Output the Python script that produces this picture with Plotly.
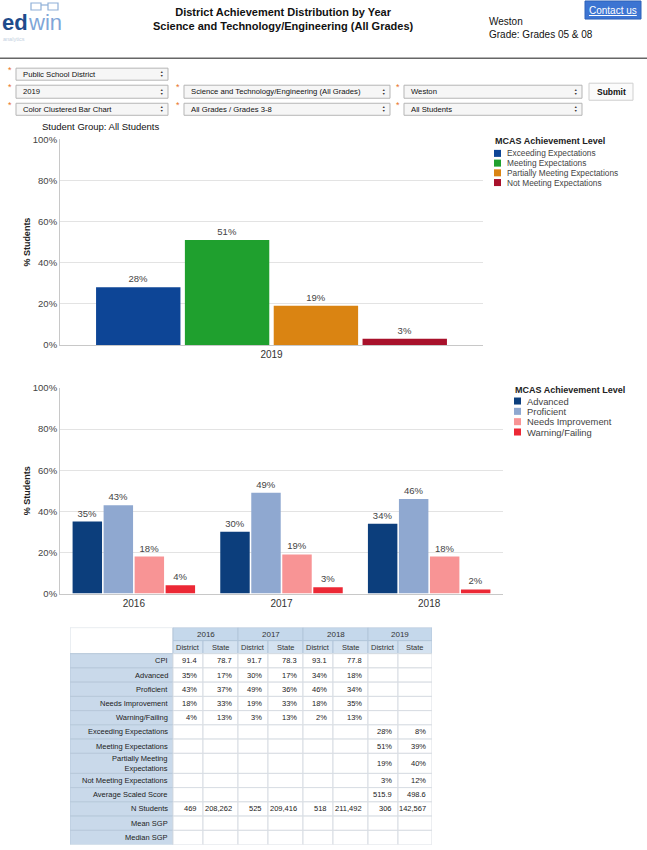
import plotly.graph_objects as go

W, H = 647, 850


def px(x):
    return x / W


def py(y):
    # reference pixel row -> paper fraction (small empirical vertical correction)
    return 1 - ((y - 7.0) / 0.9845) / H


def clamp(v):
    return min(1.0, max(0.0, v))


# ---------------- data ----------------
year_2019 = ["2019"]
levels_new = ["Exceeding Expectations", "Meeting Expectations",
              "Partially Meeting Expectations", "Not Meeting Expectations"]
values_2019 = [28, 51, 19, 3]
colors_new = ["#0d4596", "#1fa02e", "#da8412", "#a8112b"]

years_old = ["2016", "2017", "2018"]
levels_old = ["Advanced", "Proficient", "Needs Improvement", "Warning/Failing"]
advanced = [35, 30, 34]
proficient = [43, 49, 46]
needs_improvement = [18, 19, 18]
warning_failing = [4, 3, 2]
colors_old = ["#0c3e7c", "#8fa8d0", "#f89495", "#ec2835"]

y_ticks = [0, 20, 40, 60, 80, 100]
y_tick_text = ["0%", "20%", "40%", "60%", "80%", "100%"]

table_years = ["2016", "2017", "2018", "2019"]
sub_headers = ["District", "State"]
row_labels = ["CPI", "Advanced", "Proficient", "Needs Improvement", "Warning/Failing",
              "Exceeding Expectations", "Meeting Expectations",
              "Partially Meeting<br>Expectations", "Not Meeting Expectations",
              "Average Scaled Score", "N Students", "Mean SGP", "Median SGP"]
district_2016 = ["91.4", "35%", "43%", "18%", "4%", "", "", "", "", "", "469", "", ""]
state_2016 = ["78.7", "17%", "37%", "33%", "13%", "", "", "", "", "", "208,262", "", ""]
district_2017 = ["91.7", "30%", "49%", "19%", "3%", "", "", "", "", "", "525", "", ""]
state_2017 = ["78.3", "17%", "36%", "33%", "13%", "", "", "", "", "", "209,416", "", ""]
district_2018 = ["93.1", "34%", "46%", "18%", "2%", "", "", "", "", "", "518", "", ""]
state_2018 = ["77.8", "18%", "34%", "35%", "13%", "", "", "", "", "", "211,492", "", ""]
district_2019 = ["", "", "", "", "", "28%", "51%", "19%", "3%", "515.9", "306", "", ""]
state_2019 = ["", "", "", "", "", "8%", "39%", "40%", "12%", "498.6", "142,567", "", ""]
value_cols = [district_2016, state_2016, district_2017, state_2017,
              district_2018, state_2018, district_2019, state_2019]

FONT = "Liberation Sans, Arial, sans-serif"

fig = go.Figure()

# ---------------- chart 1 ----------------
for lvl, v, c in zip(levels_new, values_2019, colors_new):
    fig.add_trace(go.Bar(
        x=year_2019, y=[v], name=lvl, marker=dict(color=c, line=dict(width=0)),
        text=[f"{v}%"], textposition="outside", cliponaxis=False,
        textfont=dict(size=9.5, color="#444", family=FONT),
        xaxis="x", yaxis="y", showlegend=False, hoverinfo="skip"))

# ---------------- chart 2 ----------------
for lvl, vals, c in zip(levels_old, [advanced, proficient, needs_improvement, warning_failing], colors_old):
    fig.add_trace(go.Bar(
        x=years_old, y=vals, name=lvl, marker=dict(color=c, line=dict(width=0)),
        text=[f"{v}%" for v in vals], textposition="outside", cliponaxis=False,
        textfont=dict(size=9.5, color="#444", family=FONT),
        xaxis="x2", yaxis="y2", showlegend=False, hoverinfo="skip"))

# ---------------- axes ----------------
axis_common = dict(showline=True, linecolor="#c8c8c8", linewidth=1, ticks="",
                   tickfont=dict(size=10, color="#333", family=FONT), fixedrange=True)
yaxis_common = dict(range=[0, 100], tickmode="array", tickvals=y_ticks, ticktext=y_tick_text,
                    showgrid=True, gridcolor="#e3e3e3", gridwidth=1,
                    showline=True, linecolor="#c8c8c8", zeroline=False, ticks="",
                    tickfont=dict(size=9.5, color="#444", family=FONT),
                    title=dict(text="<b>% Students</b>", font=dict(size=9, color="#222", family=FONT),
                               standoff=0),
                    fixedrange=True)

# table geometry (pixels)
col_w = [103, 30, 35, 30, 35, 30, 35, 30, 34]
head_h = [13, 13]
body_h = [14.2] * len(row_labels)
body_h[7] = 20
tab_w = sum(col_w)
tab_h = sum(head_h) + sum(body_h)
TAB_TOP = 627

# bottom of table domain may fall just below the paper edge: clamp and keep scale
d_top = py(TAB_TOP)
d_bot_raw = py(TAB_TOP + tab_h)
d_bot = clamp(d_bot_raw)
scale = tab_h / (d_top - d_bot_raw)
y3_range = [(d_top - d_bot) * scale, 0]

fig.update_layout(
    width=W, height=H, margin=dict(l=0, r=0, t=0, b=0),
    paper_bgcolor="white", plot_bgcolor="white",
    barmode="group", bargap=0.16, bargroupgap=0.05,
    font=dict(family=FONT, color="#222"),
    xaxis=dict(domain=[px(60), px(483)], anchor="y", **axis_common),
    yaxis=dict(domain=[py(345), py(140)], anchor="x", **yaxis_common),
    xaxis2=dict(domain=[px(60), px(503)], anchor="y2", **axis_common),
    yaxis2=dict(domain=[py(593), py(388)], anchor="x2", **yaxis_common),
    xaxis3=dict(domain=[px(70), px(70 + tab_w)], range=[0, tab_w], visible=False,
                anchor="y3", fixedrange=True),
    yaxis3=dict(domain=[d_bot, d_top], range=y3_range, visible=False,
                anchor="x3", fixedrange=True),
)

shapes = []
ann = []

# ---------------- table (drawn on hidden pixel-unit axes) ----------------
xe = [0]
for w in col_w:
    xe.append(xe[-1] + w)
ye = [0]
for h in head_h + body_h:
    ye.append(ye[-1] + h)

TF = "Liberation Sans, Arial, sans-serif"


def cell(x0, x1, y0, y1, fill, line):
    shapes.append(dict(type="rect", xref="x3", yref="y3", x0=x0, x1=x1, y0=y0, y1=y1,
                       fillcolor=fill, line=dict(color=line, width=1), layer="below"))


def ttext(x, y, s, anchor, size=7.5, color="#222"):
    ann.append(dict(x=x, y=y, xref="x3", yref="y3", xanchor=anchor, yanchor="middle",
                    showarrow=False, text=s, align=anchor,
                    font=dict(size=size, color=color, family=TF)))


# corner
cell(xe[0], xe[1], ye[0], ye[2], "white", "#d6dde5")
# year header (merged pairs)
for i, yr in enumerate(table_years):
    x0, x1 = xe[1 + 2 * i], xe[3 + 2 * i]
    cell(x0, x1, ye[0], ye[1], "#c5d8eb", "#b3c6da")
    ttext((x0 + x1) / 2, (ye[0] + ye[1]) / 2, yr, "center", size=8, color="#333")
# district / state header
for j in range(8):
    x0, x1 = xe[1 + j], xe[2 + j]
    cell(x0, x1, ye[1], ye[2], "#d4e2f0", "#b3c6da")
    ttext((x0 + x1) / 2, (ye[1] + ye[2]) / 2, sub_headers[j % 2], "center", size=7.5, color="#333")
# body
for r, lab in enumerate(row_labels):
    y0, y1 = ye[2 + r], ye[3 + r]
    cell(xe[0], xe[1], y0, y1, "#c9d9ea", "#b8c9db")
    ttext(xe[1] - 3, (y0 + y1) / 2, lab, "right")
    for j, col in enumerate(value_cols):
        x0, x1 = xe[1 + j], xe[2 + j]
        cell(x0, x1, y0, y1, "white", "#d8dde3")
        if col[r]:
            ttext(x1 - 4, (y0 + y1) / 2, col[r], "right")

# ---------------- manual legends ----------------
def add_legend(x0, y_title, y_first, step, labels, colors, fsize):
    ann.append(dict(x=px(x0), y=py(y_title), xref="paper", yref="paper", xanchor="left",
                    yanchor="middle", showarrow=False, text="<b>MCAS Achievement Level</b>",
                    font=dict(size=9, color="#222", family=FONT)))
    for i, (lab, col) in enumerate(zip(labels, colors)):
        yc = y_first + i * step
        shapes.append(dict(type="rect", xref="paper", yref="paper",
                           x0=px(x0 + 1), x1=px(x0 + 8), y0=py(yc + 3.5), y1=py(yc - 3.5),
                           fillcolor=col, line=dict(width=0)))
        ann.append(dict(x=px(x0 + 12), y=py(yc), xref="paper", yref="paper", xanchor="left",
                        yanchor="middle", showarrow=False, text=lab,
                        font=dict(size=fsize, color="#444", family=FONT)))


add_legend(493, 142, 154, 9.7, levels_new, colors_new, 8.3)
add_legend(513, 390, 401, 10.3, levels_old, colors_old, 9.4)

# ---------------- page header ----------------
ann.append(dict(x=px(0), y=py(23), xref="paper", yref="paper", xanchor="left", yanchor="middle",
                showarrow=False, text="<b>ed</b>", font=dict(size=22, color="#1f4c8c", family=FONT)))
ann.append(dict(x=px(25.5), y=py(23), xref="paper", yref="paper", xanchor="left", yanchor="middle",
                showarrow=False, text="win", font=dict(size=22, color="#7fa6d8", family=FONT)))
ann.append(dict(x=px(1), y=py(40), xref="paper", yref="paper", xanchor="left", yanchor="middle",
                showarrow=False, text="analytics", font=dict(size=5.5, color="#c3d0e0", family=FONT)))
shapes.append(dict(type="rect", xref="paper", yref="paper", x0=px(31), x1=px(41), y0=py(11), y1=py(4),
                   line=dict(color="#8fb0d8", width=1.2)))
shapes.append(dict(type="rect", xref="paper", yref="paper", x0=px(48), x1=px(58), y0=py(11), y1=py(4),
                   line=dict(color="#8fb0d8", width=1.2)))
shapes.append(dict(type="line", xref="paper", yref="paper", x0=px(41), x1=px(48), y0=py(6), y1=py(6),
                   line=dict(color="#8fb0d8", width=1.2)))

ann.append(dict(x=px(283), y=py(20), xref="paper", yref="paper", xanchor="center", yanchor="middle",
                showarrow=False,
                text="<b>District Achievement Distribution by Year</b><br><b>Science and Technology/Engineering (All Grades)</b>",
                font=dict(size=11, color="#111", family=FONT)))
ann.append(dict(x=px(487), y=py(22), xref="paper", yref="paper", xanchor="left", yanchor="middle",
                showarrow=False, text="Weston", font=dict(size=10, color="#111", family=FONT)))
ann.append(dict(x=px(487), y=py(35), xref="paper", yref="paper", xanchor="left", yanchor="middle",
                showarrow=False, text="Grade: Grades 05 & 08", font=dict(size=10, color="#111", family=FONT)))

shapes.append(dict(type="rect", xref="paper", yref="paper", x0=px(585), x1=px(641), y0=py(20), y1=py(2),
                   fillcolor="#3c74d2", line=dict(color="#2f62b8", width=1)))
ann.append(dict(x=px(613), y=py(11), xref="paper", yref="paper", xanchor="center", yanchor="middle",
                showarrow=False, text="<u>Contact us</u>", font=dict(size=10, color="white", family=FONT)))

shapes.append(dict(type="line", xref="paper", yref="paper", x0=0, x1=1, y0=py(59), y1=py(59),
                   line=dict(color="#666", width=1.5)))

# ---------------- form controls ----------------
selects = [
    (16, 168, 69, 81, "Public School District"),
    (16, 168, 86, 99, "2019"),
    (184, 390, 86, 99, "Science and Technology/Engineering (All Grades)"),
    (404, 582, 86, 99, "Weston"),
    (16, 168, 104, 116, "Color Clustered Bar Chart"),
    (184, 390, 104, 116, "All Grades / Grades 3-8"),
    (404, 582, 104, 116, "All Students"),
]
for x0, x1, y0, y1, label in selects:
    shapes.append(dict(type="rect", xref="paper", yref="paper", x0=px(x0), x1=px(x1), y0=py(y1), y1=py(y0),
                       fillcolor="#f6f6f6", line=dict(color="#b5b5b5", width=1)))
    yc = (y0 + y1) / 2
    ann.append(dict(x=px(x0 + 5), y=py(yc), xref="paper", yref="paper", xanchor="left", yanchor="middle",
                    showarrow=False, text=label, font=dict(size=7.7, color="#111", family=FONT)))
    ann.append(dict(x=px(x1 - 7), y=py(yc - 2.2), xref="paper", yref="paper", xanchor="center",
                    yanchor="middle", showarrow=False, text="▲", font=dict(size=3.5, color="#333")))
    ann.append(dict(x=px(x1 - 7), y=py(yc + 2.2), xref="paper", yref="paper", xanchor="center",
                    yanchor="middle", showarrow=False, text="▼", font=dict(size=3.5, color="#333")))
    ann.append(dict(x=px(x0 - 6), y=py(y0 + 2), xref="paper", yref="paper", xanchor="center",
                    yanchor="middle", showarrow=False, text="*", font=dict(size=9, color="#e8742a")))

shapes.append(dict(type="rect", xref="paper", yref="paper", x0=px(589), x1=px(633), y0=py(101), y1=py(84),
                   fillcolor="#fbfbfb", line=dict(color="#cfcfcf", width=1)))
ann.append(dict(x=px(611), y=py(92.5), xref="paper", yref="paper", xanchor="center", yanchor="middle",
                showarrow=False, text="<b>Submit</b>", font=dict(size=8.5, color="#111", family=FONT)))

ann.append(dict(x=px(40), y=py(127), xref="paper", yref="paper", xanchor="left", yanchor="middle",
                showarrow=False, text="Student Group: All Students", font=dict(size=9.5, color="#111", family=FONT)))

fig.update_layout(shapes=shapes, annotations=ann)

fig.write_html("out.html", config={"displayModeBar": False},
               post_script="document.body.style.margin='0';document.body.style.overflow='hidden';")
